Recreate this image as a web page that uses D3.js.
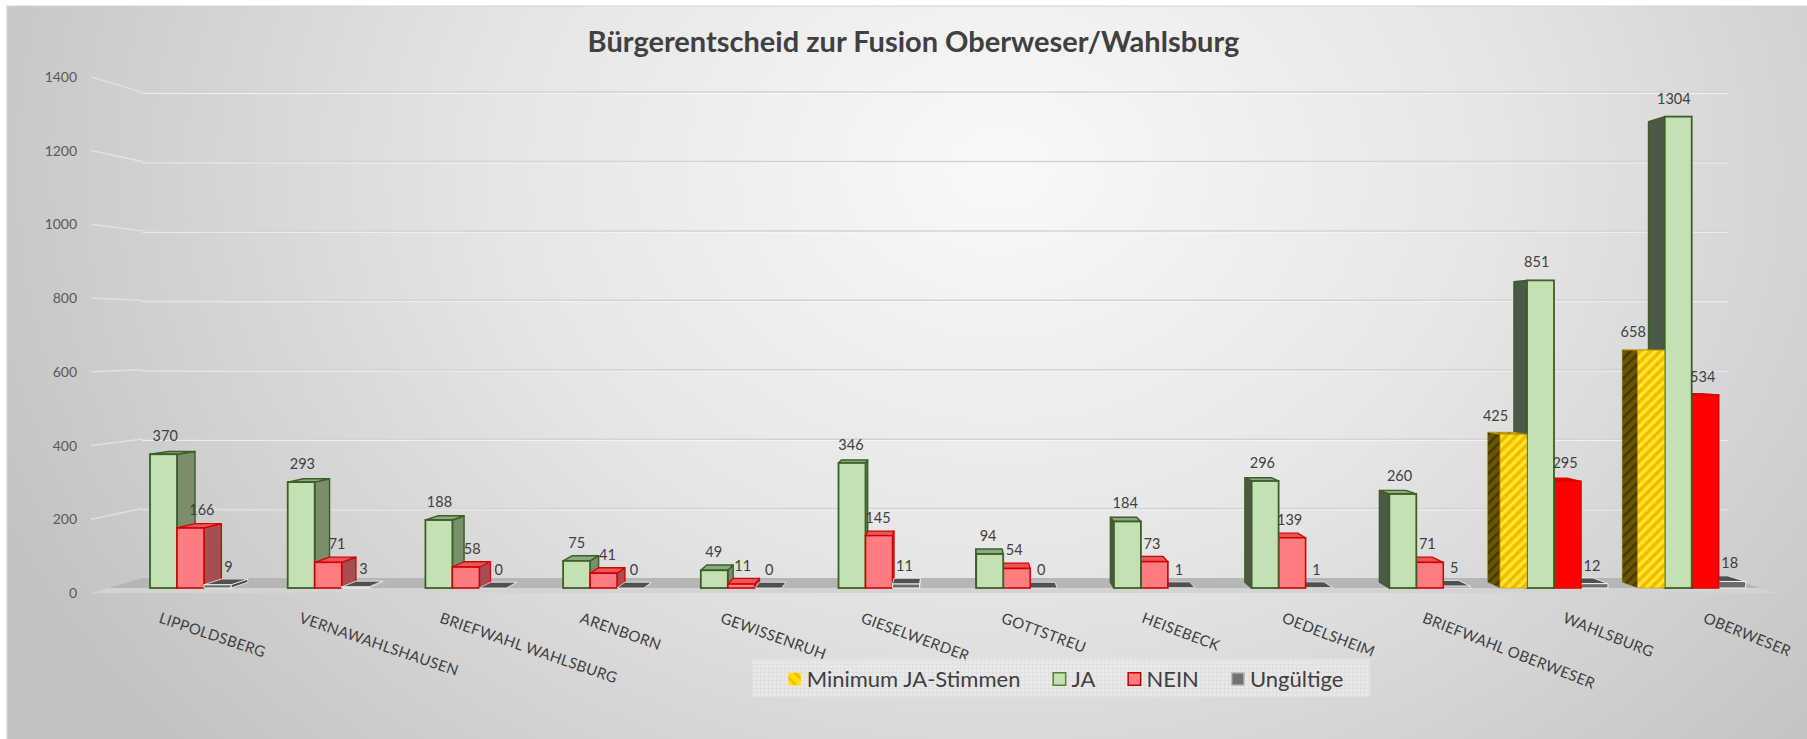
<!DOCTYPE html>
<html><head><meta charset="utf-8">
<script src="https://cdn.jsdelivr.net/npm/d3@7"></script>
<style>html,body{margin:0;padding:0;background:#fff;overflow:hidden}</style>
</head><body>
<svg id="c" width="1807" height="739"></svg>
<script>
// ---------------- data ----------------
const title = "Bürgerentscheid zur Fusion Oberweser/Wahlsburg";
const categories = ["LIPPOLDSBERG","VERNAWAHLSHAUSEN","BRIEFWAHL WAHLSBURG","ARENBORN","GEWISSENRUH","GIESELWERDER","GOTTSTREU","HEISEBECK","OEDELSHEIM","BRIEFWAHL OBERWESER","WAHLSBURG","OBERWESER"];
const seriesNames = ["Minimum JA-Stimmen","JA","NEIN","Ungültige"];
const minimumJa = [null,null,null,null,null,null,null,null,null,null,425,658];
const ja = [370,293,188,75,49,346,94,184,296,260,851,1304];
const nein = [166,71,58,41,11,145,54,73,139,71,295,534];
const ungueltig = [9,3,0,0,0,11,0,1,1,5,12,18];
const yTicks = [0,200,400,600,800,1000,1200,1400];

// ---------------- styling ----------------
const strongNein = new Set(["WAHLSBURG","OBERWESER"]);
const FONT = "Lato, 'Open Sans', sans-serif";
const VP = {x: 960, y: 337};
const K_BAR = 0.977, K_WALL = 0.96, K_FRONT = 1.02;

const svg = d3.select("#c");
const defs = svg.append("defs");

const bg = defs.append("radialGradient").attr("id","bg").attr("gradientUnits","userSpaceOnUse")
  .attr("cx",1000).attr("cy",170).attr("r",1100)
  .attr("gradientTransform","translate(1000,170) scale(1,0.8) translate(-1000,-170)");
bg.append("stop").attr("offset",0).attr("stop-color","#f9f9f9");
bg.append("stop").attr("offset",0.45).attr("stop-color","#e6e6e6");
bg.append("stop").attr("offset",1).attr("stop-color","#c2c2c2");

function hatch(id, base, stripe, light, angle, w){
  const p = defs.append("pattern").attr("id",id).attr("patternUnits","userSpaceOnUse")
    .attr("width",w).attr("height",w).attr("patternTransform",`rotate(${angle})`);
  p.append("rect").attr("width",w).attr("height",w).attr("fill",base);
  p.append("rect").attr("width",w*0.35).attr("height",w).attr("fill",stripe);
  if (light) p.append("rect").attr("x",w*0.6).attr("width",w*0.15).attr("height",w).attr("fill",light);
}
hatch("hFront","#ffd800","#f0b400","#fff27a",45,7);
hatch("hSide","#6a5500","#463800",null,45,7);
hatch("hTop","#c9a400","#a88600",null,45,7);
hatch("hLegend","#ffe200","#ffb800",null,-45,8);

const lg = defs.append("pattern").attr("id","legGrid").attr("patternUnits","userSpaceOnUse").attr("width",4).attr("height",4);
lg.append("rect").attr("width",4).attr("height",4).attr("fill","#ececec");
lg.append("path").attr("d","M0 0.5H4M0.5 0V4").attr("stroke","#e2e2e2").attr("stroke-width",1);

// background
svg.append("rect").attr("x",7).attr("y",6).attr("width",1805).attr("height",740)
  .attr("fill","url(#bg)").attr("stroke","#d4d4d4").attr("stroke-width",1);

// ---------------- scales ----------------
const x = d3.scaleBand().domain(categories).range([108.15, 1760.55]).paddingInner(0.216).paddingOuter(0.108);
const xs = d3.scaleBand().domain(seriesNames).range([0, x.bandwidth()]);
const y = d3.scaleLinear().domain([0, 1400]).range([588, 588 - 1400*0.3615]);
const proj = (px, py, k) => [VP.x + (px - VP.x)*k, VP.y + (py - VP.y)*k];
const [r0, r1] = x.range();

// ---------------- walls, gridlines, floor ----------------
const grid = svg.append("g");
yTicks.forEach(v => {
  const a = proj(r0, y(v), K_FRONT), b = proj(r0, y(v), K_WALL), c = proj(r1, y(v), K_WALL);
  if (v > 0) {
    grid.append("line").attr("x1",a[0]).attr("y1",a[1]).attr("x2",b[0]).attr("y2",b[1])
      .attr("stroke","#f4f4f4").attr("stroke-width",1.4).attr("opacity",0.55);
    grid.append("line").attr("x1",b[0]).attr("y1",b[1]+1.4).attr("x2",c[0]).attr("y2",c[1]+1.4)
      .attr("stroke","#fbfbfb").attr("stroke-width",1).attr("opacity",0.7);
    grid.append("line").attr("x1",b[0]).attr("y1",b[1]).attr("x2",c[0]).attr("y2",c[1])
      .attr("stroke","#d3d3d3").attr("stroke-width",1.5);
  }
  svg.append("text").attr("x",a[0]-14).attr("y",a[1]+5).attr("text-anchor","end")
    .attr("font-family",FONT).attr("font-size",14).attr("fill","#595959").text(v);
});

// floor
const y0 = y(0);
const fl = [proj(r0,y0,K_WALL), proj(r1,y0,K_WALL), proj(r1,y0,1), proj(r0,y0,1)];
const fr = [proj(r0,y0,1), proj(r1,y0,1), proj(r1,y0,K_FRONT), proj(r0,y0,K_FRONT)];
svg.append("polygon").attr("points",fl.map(p=>p.join(",")).join(" ")).attr("fill","#b6b6b6");
svg.append("polygon").attr("points",fr.map(p=>p.join(",")).join(" ")).attr("fill","#d3d3d3");

// ---------------- bars ----------------
const seriesData = [minimumJa, ja, nein, ungueltig];
function styleFor(s, cat){
  if (s === "Minimum JA-Stimmen") return {front:"url(#hFront)", side:"url(#hSide)", top:"url(#hTop)", stroke:"#b89400", sw:0.6};
  if (s === "JA") return {front:"#c5e0b3", side: null, top:"#8fa980", stroke:"#3b5f27", sw:1.8};
  if (s === "NEIN") return strongNein.has(cat)
    ? {front:"#ff0000", side:"#a40000", top:"#d80000", stroke:"#e00000", sw:1.6}
    : {front:"#ff7c80", side:"#a64e51", top:"#e25a5e", stroke:"#d40000", sw:1.6};
  return {front:"#6f6b6b", side:"#4a4a4a", top:"#505050", stroke:"#f2f2f2", sw:1};
}
const bars = [];
categories.forEach((cat, i) => {
  seriesNames.forEach((s, j) => {
    const v = seriesData[j][i];
    if (v === null || v === undefined) return;
    const x0 = x(cat) + xs(s), x1 = x0 + xs.bandwidth();
    bars.push({cat, s, v, x0, x1, yT: y(v), yB: y(0)});
  });
});
bars.sort((a,b) => Math.abs((b.x0+b.x1)/2 - VP.x) - Math.abs((a.x0+a.x1)/2 - VP.x));

const gBars = svg.append("g");
const pts = arr => arr.map(p => p.join(",")).join(" ");
bars.forEach(b => {
  const st = styleFor(b.s, b.cat);
  const g = gBars.append("g");
  const fTL=[b.x0,b.yT], fTR=[b.x1,b.yT], fBL=[b.x0,b.yB], fBR=[b.x1,b.yB];
  const bTL=proj(b.x0,b.yT,K_BAR), bTR=proj(b.x1,b.yT,K_BAR), bBL=proj(b.x0,b.yB,K_BAR), bBR=proj(b.x1,b.yB,K_BAR);
  let side = null, rightSide = true;
  if (b.x1 < VP.x) side = [fTR,bTR,bBR,fBR];
  else if (b.x0 > VP.x) { side = [fTL,bTL,bBL,fBL]; rightSide = false; }
  let sideFill = st.side;
  if (b.s === "JA") sideFill = rightSide ? "#7a8e6b" : "#4d5846";
  if (side && b.yB - b.yT > 0.5)
    g.append("polygon").attr("points",pts(side)).attr("fill",sideFill)
      .attr("stroke",st.stroke).attr("stroke-width",st.sw*0.8).attr("stroke-linejoin","round");
  if (b.yT > VP.y)
    g.append("polygon").attr("points",pts([fTL,fTR,bTR,bTL])).attr("fill",st.top)
      .attr("stroke",st.stroke).attr("stroke-width",st.sw*0.8).attr("stroke-linejoin","round");
  if (b.yB - b.yT > 0.5)
    g.append("rect").attr("x",b.x0).attr("y",b.yT).attr("width",b.x1-b.x0).attr("height",b.yB-b.yT)
      .attr("fill",st.front).attr("stroke",st.stroke).attr("stroke-width",st.sw);
});

// data labels
const gLab = svg.append("g").attr("font-family",FONT).attr("font-size",14.5).attr("fill","#404040").attr("text-anchor","middle");
bars.forEach(b => {
  const cx = (b.x0+b.x1)/2;
  let dx;
  if (b.s === "Minimum JA-Stimmen") dx = -18;
  else if (b.s === "JA") dx = (VP.x - cx)*0.004 - 1.5;
  else dx = Math.max(0, VP.x - cx)*0.018 - 2.5;
  gLab.append("text").attr("x",cx+dx).attr("y",b.yT-13).text(b.v);
});

// category labels
const gCat = svg.append("g").attr("font-family",FONT).attr("font-size",15).attr("fill","#404040");
categories.forEach((cat, i) => {
  const p = proj(x(cat) + x.bandwidth()/2, y(0), K_FRONT);
  const ang = 18.5 + 3.5*(i/(categories.length-1));
  gCat.append("text").attr("transform",`translate(${p[0]},612) rotate(${ang})`)
    .attr("dy","0.72em").attr("letter-spacing",0.3).text(cat);
});

// title
svg.append("text").attr("x",913.5).attr("y",52).attr("text-anchor","middle")
  .attr("font-family",FONT).attr("font-weight","bold").attr("font-size",29).attr("fill","#404040").text(title);

// legend
svg.append("rect").attr("x",752).attr("y",659).attr("width",618).attr("height",38).attr("fill","url(#legGrid)").attr("opacity",0.75);
const legStyles = {
  "Minimum JA-Stimmen": {fill:"url(#hLegend)", stroke:"none"},
  "JA": {fill:"#c5e0b3", stroke:"#548235"},
  "NEIN": {fill:"#ff7c80", stroke:"#c00000"},
  "Ungültige": {fill:"#767171", stroke:"#bfbfbf"}
};
const gLeg = svg.append("g");
let lx = 0;
const items = [];
seriesNames.forEach(s => {
  const it = gLeg.append("g");
  const st = legStyles[s];
  it.append("rect").attr("x",0.75).attr("y",672.75).attr("width",12.5).attr("height",12.5)
    .attr("fill",st.fill).attr("stroke",st.stroke).attr("stroke-width",1.5);
  const t = it.append("text").attr("x",19).attr("y",686.5).attr("font-family",FONT).attr("font-size",22)
    .attr("fill","#404040").text(s);
  const w = 19 + t.node().getComputedTextLength();
  items.push({it, w});
});
const gap = 32;
const total = d3.sum(items, d => d.w) + gap*(items.length-1);
lx = 1065.5 - total/2;
items.forEach(d => { d.it.attr("transform",`translate(${lx},0)`); lx += d.w + gap; });
</script>
</body></html>
